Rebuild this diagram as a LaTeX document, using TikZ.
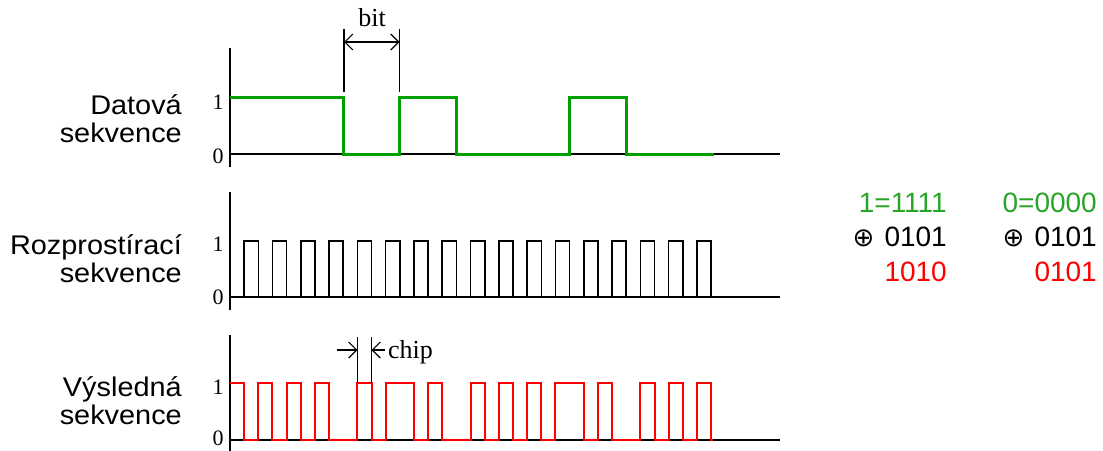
\documentclass[tikz,border=0pt]{standalone}
\usepackage{fontspec}
\setmainfont{Liberation Serif}
\newfontfamily\sansf{Liberation Sans}
\newfontfamily\labf[FakeStretch=1.07]{Liberation Sans}
\newfontfamily\symf{DejaVu Sans}
\usetikzlibrary{arrows.meta}
\definecolor{dgreen}{RGB}{0,160,0}
\definecolor{tgreen}{RGB}{40,165,40}
\definecolor{wred}{RGB}{255,0,0}
\begin{document}
\begin{tikzpicture}[x=1pt,y=-1pt,
  axisline/.style={line width=1.6pt, black},
  labl/.style={font=\labf\fontsize{27}{28}\selectfont, align=right, anchor=east, inner sep=0pt},
  ticklab/.style={font=\fontsize{22}{22}\selectfont, inner sep=0pt},
  dimline/.style={line width=1.2pt, black},
  barbtip/.style={-{Straight Barb[length=8pt,width=16pt,line width=1.2pt]}},
  rtext/.style={font=\sansf\fontsize{28}{28}\selectfont, anchor=east, inner sep=0pt},
  datawave/.style={line width=3pt, dgreen, line join=miter},
  spreadwave/.style={line width=1.6pt, black},
  reswave/.style={line width=2pt, wred}
]
\useasboundingbox (0,0) rectangle (1103,450);
\def\xo{230}
\def\cw{14.15}
% ---------- axes ----------
\coordinate (ax1t) at (230,48);  \coordinate (ax1b) at (230,167);
\coordinate (ax2t) at (230,192); \coordinate (ax2b) at (230,310);
\coordinate (ax3t) at (230,335); \coordinate (ax3b) at (230,453);
\coordinate (bs1a) at (230,154); \coordinate (bs1b) at (780,154);
\coordinate (bs2a) at (230,297); \coordinate (bs2b) at (780,297);
\coordinate (bs3a) at (230,440); \coordinate (bs3b) at (780,440);
\draw[axisline] (ax1t) -- (ax1b);
\draw[axisline] (ax2t) -- (ax2b);
\draw[axisline] (ax3t) -- (ax3b);
\draw[axisline] (bs1a) -- (bs1b);
\draw[axisline] (bs2a) -- (bs2b);
\draw[axisline] (bs3a) -- (bs3b);
% ---------- tick labels ----------
\node[ticklab] (t1a) at (218,102) {1};
\node[ticklab] (t1b) at (218,156) {0};
\node[ticklab] (t2a) at (218,244) {1};
\node[ticklab] (t2b) at (218,297) {0};
\node[ticklab] (t3a) at (218,387) {1};
\node[ticklab] (t3b) at (218,438) {0};
% ---------- row labels ----------
\node[labl] (l1) at (182,119) {Datová\\sekvence};
\node[labl] (l2) at (182,259) {Rozprostírací\\sekvence};
\node[labl] (l3) at (182,401) {Výsledná\\sekvence};
% ---------- data sequence ----------
\draw[datawave] (230,97) -- (343.2,97) -- (343.2,154) -- (399.8,154) -- (399.8,97)
  -- (456.4,97) -- (456.4,154) -- (569.6,154) -- (569.6,97) -- (626.2,97)
  -- (626.2,154) -- (714,154);
% ---------- spreading sequence ----------
\draw[spreadwave] (\xo,297)
  \foreach \i in {1,3,...,33} {
    -- ({\xo+\i*\cw},297) -- ({\xo+\i*\cw},241) -- ({\xo+(\i+1)*\cw},241) -- ({\xo+(\i+1)*\cw},297)
  } -- (714,297);
% ---------- resulting sequence ----------
\draw[reswave] (\xo,383) -- ({\xo+\cw},383) -- ({\xo+\cw},440)
  \foreach \a/\b in {2/3,4/5,6/7,9/10,11/13,14/15,17/18,19/20,21/22,23/25,26/27,29/30,31/32,33/34} {
    -- ({\xo+\a*\cw},440) -- ({\xo+\a*\cw},383) -- ({\xo+\b*\cw},383) -- ({\xo+\b*\cw},440)
  } -- (713,440);
% ---------- bit dimension ----------
\coordinate (bLt) at (344,29); \coordinate (bLb) at (344,92);
\coordinate (bRt) at (399.5,29); \coordinate (bRb) at (399.5,92);
\coordinate (bA) at (344,42); \coordinate (bB) at (399.5,42);
\draw[dimline] (bLt) -- (bLb);
\draw[dimline] (bRt) -- (bRb);
\draw[dimline, {Straight Barb[length=8pt,width=16pt,line width=1.2pt]}-{Straight Barb[length=8pt,width=16pt,line width=1.2pt]}] (bA) -- (bB);
\node[font=\fontsize{26}{26}\selectfont, anchor=base, inner sep=0pt] (bit) at (372,26) {bit};
% ---------- chip dimension ----------
\coordinate (cLt) at (357.5,337); \coordinate (cLb) at (357.5,383);
\coordinate (cRt) at (371.5,337); \coordinate (cRb) at (371.5,383);
\coordinate (cA0) at (337,350); \coordinate (cA1) at (357.5,350);
\coordinate (cB0) at (385,350); \coordinate (cB1) at (371.5,350);
\draw[dimline] (cLt) -- (cLb);
\draw[dimline] (cRt) -- (cRb);
\draw[dimline, barbtip] (cA0) -- (cA1);
\draw[dimline, barbtip] (cB0) -- (cB1);
\node[font=\fontsize{26}{26}\selectfont, anchor=base west, inner sep=0pt] (chip) at (388,358) {chip};
% ---------- right-hand table ----------
\node[rtext, text=tgreen] (r11) at (947,203) {1=1111};
\node[rtext] (r12) at (947,237) {{\symf\fontsize{26}{26}\selectfont ⊕}\hspace{10pt}0101};
\node[rtext, text=wred] (r13) at (947,272) {1010};
\node[rtext, text=tgreen] (r21) at (1097,203) {0=0000};
\node[rtext] (r22) at (1097,237) {{\symf\fontsize{26}{26}\selectfont ⊕}\hspace{10pt}0101};
\node[rtext, text=wred] (r23) at (1097,272) {0101};
\end{tikzpicture}
\end{document}
